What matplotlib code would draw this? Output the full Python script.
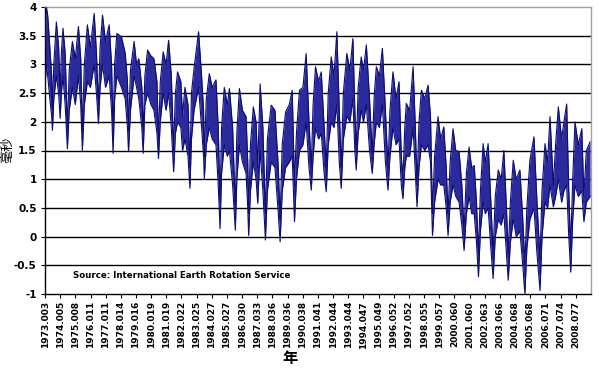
import matplotlib
matplotlib.use("Agg")
import matplotlib.pyplot as plt

# ---- data (upper / lower envelope of the dense daily series) ----
t = [1973.00, 1973.09, 1973.18, 1973.32, 1973.44, 1973.49, 1973.58, 1973.75, 1973.90, 1974.00,
     1974.08, 1974.19, 1974.33, 1974.48, 1974.60, 1974.81, 1975.00, 1975.21, 1975.36, 1975.47,
     1975.60, 1975.80, 1976.00, 1976.25, 1976.40, 1976.53, 1976.64, 1976.80, 1977.00, 1977.24,
     1977.40, 1977.50, 1977.60, 1977.75, 1978.05, 1978.30, 1978.45, 1978.52, 1978.65, 1978.89,
     1979.05, 1979.20, 1979.40, 1979.49, 1979.60, 1979.78, 1980.00, 1980.20, 1980.40, 1980.50,
     1980.62, 1980.81, 1981.00, 1981.17, 1981.35, 1981.50, 1981.62, 1981.76, 1981.98, 1982.09,
     1982.25, 1982.45, 1982.58, 1982.68, 1982.85, 1983.15, 1983.35, 1983.48, 1983.53, 1983.66,
     1983.86, 1984.05, 1984.30, 1984.45, 1984.57, 1984.67, 1984.85, 1985.05, 1985.19, 1985.40,
     1985.58, 1985.68, 1985.85, 1986.05, 1986.29, 1986.40, 1986.46, 1986.58, 1986.77, 1986.95,
     1987.06, 1987.22, 1987.40, 1987.57, 1987.70, 1987.95, 1988.20, 1988.42, 1988.54, 1988.68,
     1988.90, 1989.15, 1989.34, 1989.49, 1989.62, 1989.82, 1990.05, 1990.26, 1990.45, 1990.60,
     1990.72, 1990.88, 1991.08, 1991.26, 1991.45, 1991.59, 1991.72, 1991.92, 1992.10, 1992.29,
     1992.45, 1992.58, 1992.72, 1992.95, 1993.15, 1993.35, 1993.48, 1993.57, 1993.70, 1993.90,
     1994.05, 1994.24, 1994.45, 1994.63, 1994.75, 1994.90, 1995.10, 1995.30, 1995.50, 1995.67,
     1995.80, 1996.00, 1996.20, 1996.40, 1996.55, 1996.66, 1996.78, 1996.88, 1997.10, 1997.33,
     1997.48, 1997.59, 1997.72, 1997.88, 1998.10, 1998.32, 1998.48, 1998.61, 1998.75, 1998.98,
     1999.15, 1999.36, 1999.52, 1999.64, 1999.78, 1999.97, 2000.15, 2000.37, 2000.55, 2000.70,
     2000.85, 2001.03, 2001.20, 2001.37, 2001.52, 2001.65, 2001.78, 2001.96, 2002.10, 2002.29,
     2002.47, 2002.62, 2002.76, 2002.96, 2003.15, 2003.33, 2003.50, 2003.62, 2003.76, 2003.95,
     2004.15, 2004.39, 2004.58, 2004.72, 2004.85, 2005.05, 2005.32, 2005.52, 2005.72, 2005.85,
     2006.05, 2006.22, 2006.38, 2006.60, 2006.75, 2006.93, 2007.15, 2007.30, 2007.48, 2007.62,
     2007.75, 2007.88, 2008.03, 2008.25, 2008.48, 2008.62, 2008.78, 2009.03]

upper = [3.3, 4.0, 3.85, 3.3, 2.8, 2.2, 3.0, 3.74, 3.3, 2.5,
         3.2, 3.63, 3.2, 1.9, 2.9, 3.4, 3.1, 3.66, 3.1, 1.85,
         3.0, 3.69, 3.3, 3.89, 3.2, 2.3, 3.3, 3.86, 3.4, 3.69,
         3.0, 1.8, 3.0, 3.54, 3.48, 3.2, 2.7, 1.85, 2.9, 3.4,
         3.0, 3.1, 2.6, 1.8, 2.8, 3.25, 3.15, 3.1, 2.7, 1.7,
         2.7, 3.22, 3.0, 3.42, 2.8, 1.5, 2.5, 2.87, 2.7, 2.1,
         2.6, 2.3, 1.2, 2.5, 2.93, 3.57, 2.8, 2.2, 1.4, 2.4,
         2.84, 2.6, 2.73, 1.9, 0.6, 1.9, 2.6, 2.3, 2.58, 1.9,
         0.5, 1.8, 2.58, 2.2, 2.09, 1.3, 0.4, 1.6, 2.26, 2.0,
         1.2, 2.66, 1.9, 0.4, 1.7, 2.29, 2.2, 1.2, 0.3, 1.6,
         2.17, 2.3, 2.55, 0.9, 1.8, 2.55, 2.6, 3.19, 2.0, 1.2,
         2.3, 2.96, 2.7, 2.87, 1.9, 1.2, 2.5, 3.13, 2.8, 3.57,
         2.2, 1.2, 2.5, 3.19, 2.9, 3.45, 2.2, 1.5, 2.6, 3.13,
         2.9, 3.34, 2.4, 1.45, 2.4, 2.96, 2.8, 3.28, 2.2, 1.2,
         2.2, 2.87, 2.4, 2.7, 1.4, 1.0, 1.9, 2.32, 2.2, 2.96,
         1.9, 0.9, 2.0, 2.55, 2.4, 2.64, 2.1, 0.4, 1.4, 2.09,
         1.7, 1.91, 1.2, 0.4, 1.3, 1.88, 1.5, 1.48, 0.9, 0.1,
         1.1, 1.56, 1.2, 1.24, 0.6, -0.3, 0.8, 1.62, 1.3, 1.62,
         0.6, -0.3, 0.7, 1.16, 1.0, 1.5, 0.5, -0.3, 0.6, 1.33,
         1.0, 1.16, 0.3, -0.5, 0.5, 1.33, 1.74, 0.6, -0.4, 0.8,
         1.62, 1.3, 2.09, 0.9, 1.6, 2.26, 1.7, 2.0, 2.31, 0.8,
         -0.2, 1.0, 2.0, 1.6, 1.88, 0.7, 1.5, 1.65]

lower = [2.6, 3.0, 2.8, 2.4, 2.1, 1.85, 2.4, 2.8, 2.5, 2.06,
         2.5, 2.8, 2.3, 1.53, 2.2, 2.6, 2.3, 2.8, 2.3, 1.5,
         2.3, 2.7, 2.6, 3.0, 2.5, 1.97, 2.6, 3.0, 2.6, 2.8,
         2.2, 1.45, 2.4, 2.8, 2.6, 2.4, 1.9, 1.48, 2.2, 2.8,
         2.6, 2.4, 1.9, 1.45, 2.3, 2.5, 2.3, 2.2, 1.8, 1.36,
         2.0, 2.5, 2.2, 2.5, 1.9, 1.13, 1.8, 2.0, 1.9, 1.5,
         1.7, 1.4, 0.84, 1.7, 2.2, 2.6, 1.9, 1.4, 1.01, 1.6,
         1.9, 1.7, 1.6, 0.9, 0.14, 1.1, 1.6, 1.4, 1.5, 0.9,
         0.11, 1.0, 1.6, 1.3, 1.1, 0.5, 0.02, 0.8, 1.3, 1.0,
         0.58, 1.5, 0.8, -0.06, 0.8, 1.3, 1.2, 0.4, -0.09, 0.8,
         1.2, 1.3, 1.4, 0.26, 1.0, 1.5, 1.6, 2.0, 1.2, 0.81,
         1.4, 1.9, 1.7, 1.8, 1.1, 0.78, 1.6, 2.0, 1.9, 2.3,
         1.3, 0.84, 1.7, 2.1, 2.0, 2.4, 1.5, 1.16, 1.8, 2.2,
         2.0, 2.3, 1.5, 1.1, 1.6, 2.0, 1.9, 2.3, 1.3, 0.81,
         1.4, 1.9, 1.6, 1.7, 0.9, 0.66, 1.2, 1.4, 1.4, 1.9,
         1.1, 0.52, 1.2, 1.6, 1.5, 1.6, 1.3, 0.02, 0.6, 1.0,
         0.9, 0.9, 0.5, 0.02, 0.6, 0.9, 0.7, 0.6, 0.2, -0.24,
         0.4, 0.7, 0.4, 0.4, -0.1, -0.7, 0.1, 0.6, 0.4, 0.5,
         -0.2, -0.73, 0.0, 0.3, 0.2, 0.4, -0.3, -0.76, -0.1, 0.3,
         0.0, 0.1, -0.5, -1.0, -0.2, 0.3, 0.5, -0.3, -0.94, 0.0,
         0.6, 0.5, 0.9, 0.52, 0.7, 1.0, 0.6, 0.8, 0.9, 0.0,
         -0.62, 0.3, 0.9, 0.7, 0.8, 0.26, 0.6, 0.7]

tick_labels = ["1973.003", "1974.005", "1975.008", "1976.011", "1977.011", "1978.014",
               "1979.016", "1980.019", "1981.019", "1982.022", "1983.025", "1984.027",
               "1985.027", "1986.030", "1987.033", "1988.036", "1989.036", "1990.038",
               "1991.041", "1992.044", "1993.044", "1994.047", "1995.049", "1996.052",
               "1997.052", "1998.055", "1999.057", "2000.060", "2001.060", "2002.063",
               "2003.066", "2004.068", "2005.068", "2006.071", "2007.074", "2008.077"]
y_ticks = [-1, -0.5, 0, 0.5, 1, 1.5, 2, 2.5, 3, 3.5, 4]
y_tick_labels = ["-1", "-0.5", "0", "0.5", "1", "1.5", "2", "2.5", "3", "3.5", "4"]

# ---- figure ----
fig = plt.figure(figsize=(5.99, 3.69), dpi=100)
ax = fig.add_axes([45/599, 1 - 294/369, (591 - 45)/599, (294 - 7)/369])

for v in y_ticks[1:-1]:
    ax.axhline(v, color="black", lw=1.0, zorder=1)

ax.fill_between(t, lower, upper, color="#2a2a9c", lw=0, zorder=2)
ax.plot(t, upper, color="#0c0c72", lw=0.8, zorder=3)
ax.plot(t, lower, color="#0c0c72", lw=0.8, zorder=3)

ax.set_xlim(1973.0, 2009.09)
ax.set_ylim(-1, 4)

ax.set_yticks(y_ticks)
ax.set_yticklabels(y_tick_labels, fontsize=7.5, fontweight="bold")
ax.set_xticks([float(s) for s in tick_labels])
ax.set_xticklabels(tick_labels, rotation=90, fontsize=6.5, fontweight="bold")
ax.tick_params(axis="x", length=3, width=0.8, pad=2)
ax.tick_params(axis="y", length=3, width=0.8, pad=3)

for s in ["top", "right"]:
    ax.spines[s].set_color("#a0a0a0")
    ax.spines[s].set_linewidth(1.0)
for s in ["left", "bottom"]:
    ax.spines[s].set_color("black")
    ax.spines[s].set_linewidth(1.0)

ax.text(0.052, 0.065, "Source: International Earth Rotation Service", transform=ax.transAxes,
        fontsize=6.2, fontweight="bold", ha="left", va="center")

fig.text(8/599, 1 - 150/369, "毫秒", rotation=90, ha="center", va="center", fontsize=9.5,
         family=["Noto Sans CJK SC", "DejaVu Sans"])
fig.text(290/599, 1 - 358/369, "年", ha="center", va="center", fontsize=11, fontweight="bold",
         family=["Noto Sans CJK SC", "DejaVu Sans"])

fig.savefig("out.png", dpi=100)
